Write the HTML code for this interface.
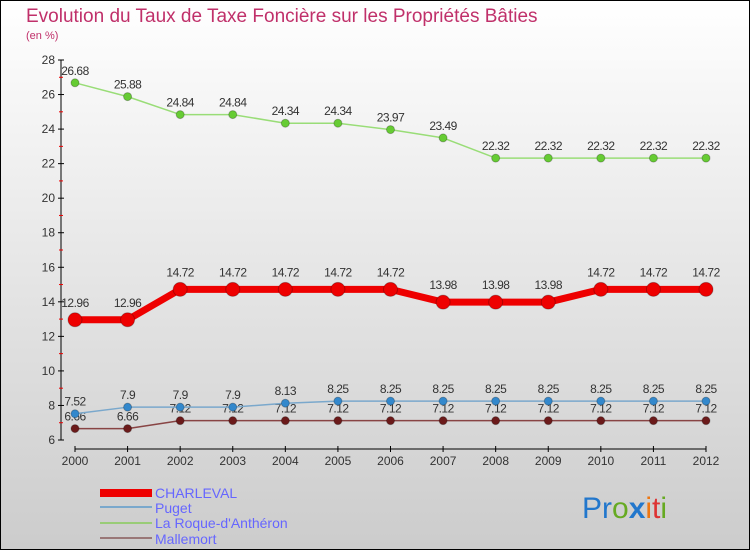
<!DOCTYPE html>
<html><head><meta charset="utf-8"><style>
body{margin:0}
svg text{font-family:"Liberation Sans",sans-serif}
</style></head><body>
<svg width="750" height="550" xmlns="http://www.w3.org/2000/svg">
<defs><linearGradient id="bg" x1="0" y1="0" x2="0" y2="1"><stop offset="0" stop-color="#ffffff"/><stop offset="1" stop-color="#cccccc"/></linearGradient></defs>
<rect x="0.5" y="0.5" width="749" height="549" fill="url(#bg)" stroke="#000"/>
<text x="26" y="22" font-size="19" fill="#c0306a">Evolution du Taux de Taxe Foncière sur les Propriétés Bâties</text>
<text x="26" y="39" font-size="11" fill="#c0306a">(en %)</text>
<g id="axes"></g>
<g id="series"></g>
<g>
<rect x="100" y="489" width="52" height="8" fill="#e00"/>
<text x="155" y="498" font-size="14" fill="#6666ff">CHARLEVAL</text>
<line x1="100" y1="507" x2="152" y2="507" stroke="#7aa8cc" stroke-width="2"/>
<text x="155" y="513" font-size="14" fill="#6666ff">Puget</text>
<line x1="100" y1="523" x2="152" y2="523" stroke="#99cc77" stroke-width="2"/>
<text x="155" y="528" font-size="14" fill="#6666ff">La Roque-d'Anthéron</text>
<line x1="100" y1="538" x2="152" y2="538" stroke="#997777" stroke-width="2"/>
<text x="155" y="544" font-size="14" fill="#6666ff">Mallemort</text>
</g>
<g font-size="30">
<text x="582" y="518"><tspan fill="#2277cc">Pr</tspan><tspan fill="#66aa22">o</tspan><tspan fill="#2277cc" font-weight="bold">x</tspan><tspan fill="#ee7711">i</tspan><tspan fill="#dd3333">t</tspan><tspan fill="#66aa22">i</tspan></text>
</g>
</svg>
<script>
const years=[2000,2001,2002,2003,2004,2005,2006,2007,2008,2009,2010,2011,2012];
const charleval=[12.96,12.96,14.72,14.72,14.72,14.72,14.72,13.98,13.98,13.98,14.72,14.72,14.72];
const puget=[7.52,7.9,7.9,7.9,8.13,8.25,8.25,8.25,8.25,8.25,8.25,8.25,8.25];
const laRoque=[26.68,25.88,24.84,24.84,24.34,24.34,23.97,23.49,22.32,22.32,22.32,22.32,22.32];
const mallemort=[6.66,6.66,7.12,7.12,7.12,7.12,7.12,7.12,7.12,7.12,7.12,7.12,7.12];
const yTicks=[6,8,10,12,14,16,18,20,22,24,26,28];
const NS="http://www.w3.org/2000/svg";
const X=i=>75+i*(706-75)/(years.length-1);
const Y=v=>440-(v-6)*(380/22);
function mk(t,a,p){const e=document.createElementNS(NS,t);for(const k in a)e.setAttribute(k,a[k]);p.appendChild(e);return e;}
const ax=document.getElementById('axes');
const yl=mk('line',{x1:61,y1:Y(28),x2:61,y2:Y(6),stroke:'#000'},ax);


yTicks.forEach(t=>{
 mk('line',{x1:58,y1:Y(t),x2:64,y2:Y(t),stroke:'#000'},ax);
 if(t<28) mk('line',{x1:59,y1:Y(t+1),x2:63,y2:Y(t+1),stroke:'#e00'},ax);
 const tx=mk('text',{x:55,y:Y(t)+4,'font-size':12,'text-anchor':'end',fill:'#333'},ax);tx.textContent=t;
 
 
});
const xl=mk('line',{x1:75,y1:449,x2:706,y2:449,stroke:'#000'},ax);


years.forEach((y,i)=>{
 mk('line',{x1:X(i),y1:446,x2:X(i),y2:452,stroke:'#000'},ax);
 const tx=mk('text',{x:X(i),y:465,'font-size':12,'text-anchor':'middle',fill:'#333'},ax);tx.textContent=y;
 
 
});
const sg=document.getElementById('series');
function series(name,vals,color,dot,w,r,labOff){
 const g=mk('g',{},sg);
 
 
 const pl=mk('polyline',{points:vals.map((v,i)=>X(i)+','+Y(v)).join(' '),fill:'none',stroke:color,'stroke-width':w,'stroke-linejoin':'round'},g);
 
 
 vals.forEach((v,i)=>{
  const c=mk('circle',{cx:X(i),cy:Y(v),r:r,fill:dot,stroke:'rgba(0,0,0,0.25)'},g);
  
  
  const t=mk('text',{x:X(i),y:Y(v)+labOff,'font-size':12,'text-anchor':'middle',fill:'#333','letter-spacing':'-0.5'},g);
  t.textContent=String(v);
  
  
 });
}
series('mallemort',mallemort,'#884444','#6b1a1a',1.5,4,-8);
series('puget',puget,'#7aa8cc','#3388cc',1.5,4,-8);
series('la-roque',laRoque,'#99dd77','#66cc33',1.5,4,-8);
series('charleval',charleval,'#ee0000','#ee0000',7,7,-13);
</script>
</body></html>
